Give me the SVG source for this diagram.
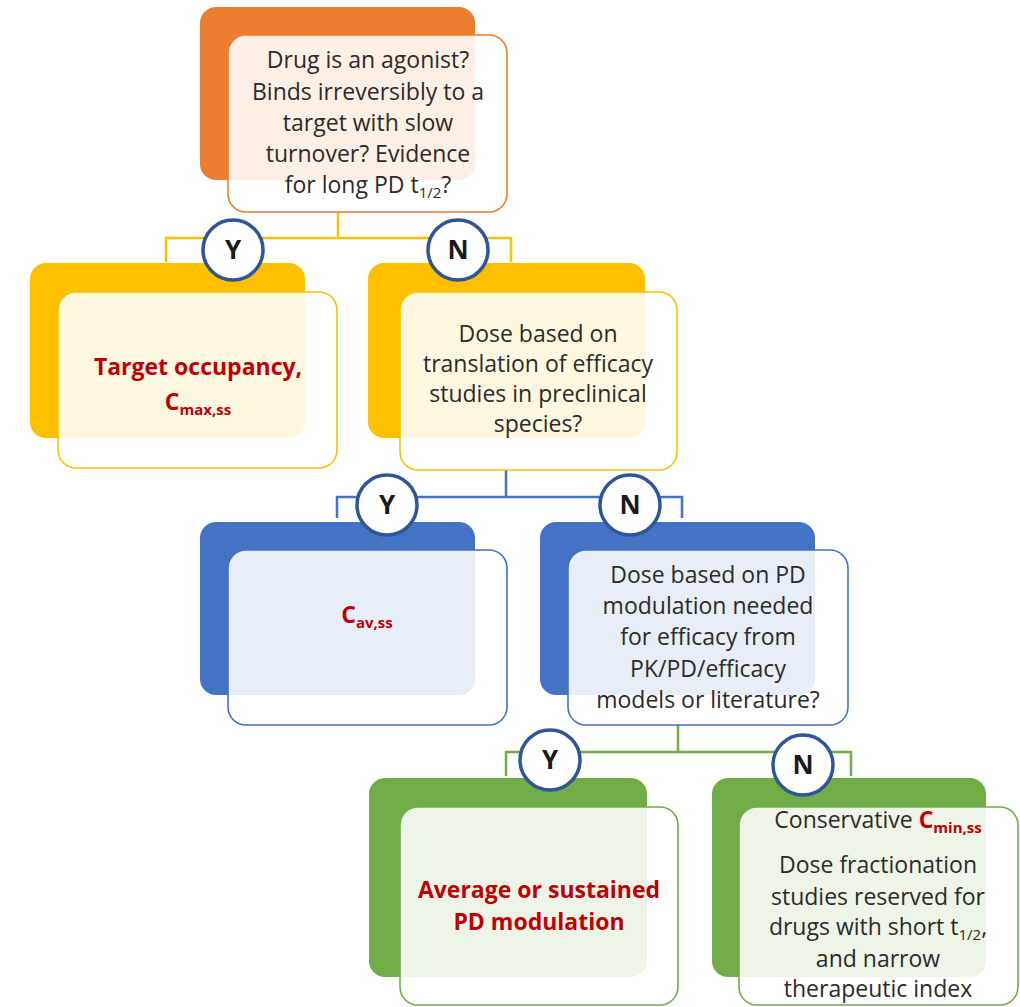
<svg xmlns="http://www.w3.org/2000/svg" width="1020" height="1007" viewBox="0 0 1020 1007">
<style>
.t{font-family:"Open Sans","Liberation Sans",sans-serif;font-size:23px;fill:#2b2b2b;text-anchor:middle}
.r{font-family:"Open Sans","Liberation Sans",sans-serif;font-size:23px;font-weight:bold;fill:#C00000;text-anchor:middle}
.sub{font-size:15px}
.front{fill:#ffffff;fill-opacity:0.88;stroke-width:1.6}
.circ{fill:#ffffff;stroke:#2F5597;stroke-width:3.5}
.lab{font-family:"Open Sans","Liberation Sans",sans-serif;font-size:26px;font-weight:bold;fill:#1a1a1a;text-anchor:middle}
.c1{fill:none;stroke:#FFC000;stroke-width:2.5}
.c2{fill:none;stroke:#4472C4;stroke-width:2.5}
.c3{fill:none;stroke:#70AD47;stroke-width:2.5}
</style>
<rect width="1020" height="1007" fill="#ffffff"/>
<g id="connectors">
<path class="c1" d="M338 212 V238 M166 262 V238 H511 V262"/>
<path class="c2" d="M506 470 V497 M337 518 V497 H682 V518"/>
<path class="c3" d="M678 725 V752 M506 776 V752 H851 V776"/>
</g>
<g id="node-q1">
<rect x="200" y="7" width="275" height="173" rx="16" fill="#ED7D31"/>
<rect class="front" x="228" y="35" width="279" height="177" rx="18" stroke="#ED7D31"/>
<text class="t" x="368" y="68">Drug is an agonist?</text>
<text class="t" x="368" y="100">Binds irreversibly to a</text>
<text class="t" x="368" y="131">target with slow</text>
<text class="t" x="368" y="162">turnover? Evidence</text>
<text class="t" x="368" y="193">for long PD t<tspan class="sub" dy="5">1/2</tspan><tspan dy="-5">?</tspan></text>
</g>
<g id="node-target">
<rect x="30" y="263" width="275" height="175" rx="16" fill="#FFC000"/>
<rect class="front" x="58" y="292" width="279" height="176" rx="18" stroke="#FFC000"/>
<text class="r" x="198" y="375">Target occupancy,</text>
<text class="r" x="198" y="410">C<tspan class="sub" dy="5">max,ss</tspan></text>
</g>
<g id="node-q2">
<rect x="368" y="263" width="277" height="175" rx="16" fill="#FFC000"/>
<rect class="front" x="400" y="292" width="277" height="178" rx="18" stroke="#FFC000"/>
<text class="t" x="538" y="342">Dose based on</text>
<text class="t" x="538" y="372">translation of efficacy</text>
<text class="t" x="538" y="402">studies in preclinical</text>
<text class="t" x="538" y="432">species?</text>
</g>
<g id="node-cav">
<rect x="200" y="522" width="275" height="173" rx="16" fill="#4472C4"/>
<rect class="front" x="228" y="550" width="279" height="175" rx="18" stroke="#4472C4"/>
<text class="r" x="367" y="623">C<tspan class="sub" dy="5">av,ss</tspan></text>
</g>
<g id="node-q3">
<rect x="540" y="522" width="275" height="173" rx="16" fill="#4472C4"/>
<rect class="front" x="568" y="550" width="280" height="175" rx="18" stroke="#4472C4"/>
<text class="t" x="708" y="583">Dose based on PD</text>
<text class="t" x="708" y="614">modulation needed</text>
<text class="t" x="708" y="645">for efficacy from</text>
<text class="t" x="708" y="677">PK/PD/efficacy</text>
<text class="t" x="708" y="708">models or literature?</text>
</g>
<g id="node-average">
<rect x="369" y="778" width="278" height="199" rx="16" fill="#70AD47"/>
<rect class="front" x="400" y="807" width="278" height="198" rx="18" stroke="#70AD47"/>
<text class="r" x="539" y="898">Average or sustained</text>
<text class="r" x="539" y="930">PD modulation</text>
</g>
<g id="node-conservative">
<rect x="712" y="778" width="274" height="199" rx="16" fill="#70AD47"/>
<rect class="front" x="739" y="807" width="279" height="198" rx="18" stroke="#70AD47"/>
<text class="t" x="878" y="828">Conservative <tspan class="r">C</tspan><tspan class="r sub" dy="5">min,ss</tspan></text>
<text class="t" x="878" y="873">Dose fractionation</text>
<text class="t" x="878" y="905">studies reserved for</text>
<text class="t" x="878" y="935">drugs with short t<tspan class="sub" dy="5">1/2</tspan><tspan dy="-5">,</tspan></text>
<text class="t" x="878" y="967">and narrow</text>
<text class="t" x="878" y="997">therapeutic index</text>
</g>
<g id="labels">
<circle class="circ" cx="233" cy="250" r="30"/><text class="lab" x="233" y="259">Y</text>
<circle class="circ" cx="458" cy="250" r="30"/><text class="lab" x="458" y="259">N</text>
<circle class="circ" cx="387" cy="505" r="30"/><text class="lab" x="387" y="514">Y</text>
<circle class="circ" cx="630" cy="505" r="30"/><text class="lab" x="630" y="514">N</text>
<circle class="circ" cx="550" cy="760" r="30"/><text class="lab" x="550" y="769">Y</text>
<circle class="circ" cx="803" cy="765" r="30"/><text class="lab" x="803" y="774">N</text>
</g>
</svg>
